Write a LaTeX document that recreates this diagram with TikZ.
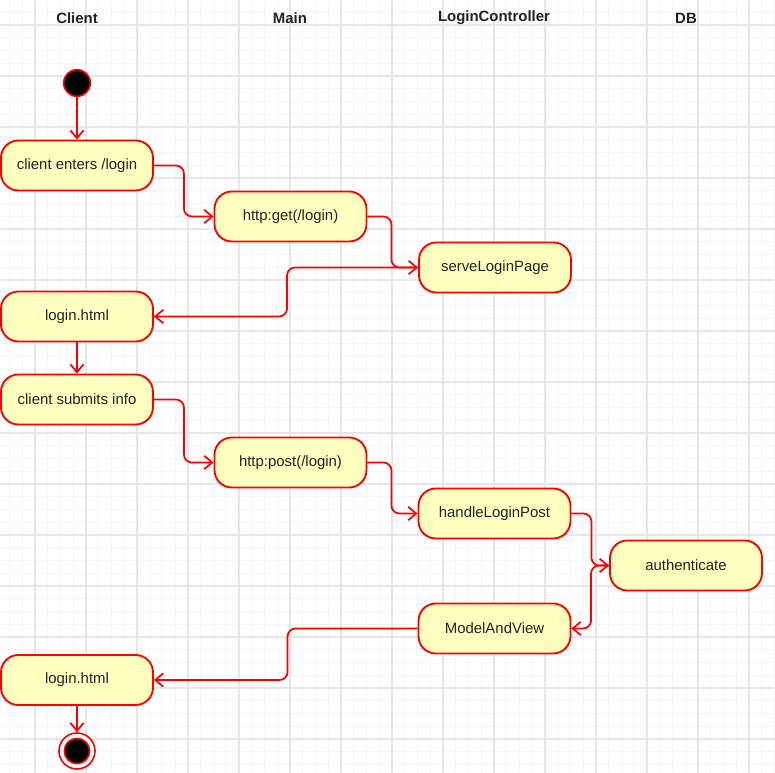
\documentclass[tikz,border=0pt]{standalone}
\usepackage{fontspec}
\setmainfont{Liberation Sans}
\usetikzlibrary{arrows.meta, positioning}

\definecolor{stfill}{HTML}{FFFFC0}
\definecolor{gridmajor}{HTML}{E6E6E6}
\definecolor{gridminor}{HTML}{F5F5F5}
\definecolor{ink}{HTML}{222222}

\tikzset{
  state/.style={draw=red, fill=stfill, line width=1.4pt, rounded corners=13pt,
    minimum width=114pt, minimum height=37.5pt, inner sep=0pt, text=ink,
    font=\fontsize{11.2}{13}\selectfont},
  lane/.style={text=ink, font=\bfseries\fontsize{11.2}{13}\selectfont},
  flow/.style={draw=red, line width=1.3pt, rounded corners=6pt, ->},
  >={Straight Barb[length=6pt,width=10pt]}
}

\begin{document}
\begin{tikzpicture}[x=0.75pt, y=-0.75pt]
        \useasboundingbox (0,0) rectangle (775,773);
        \fill[white] (0,0) rectangle (775,773);
        % grid
        \foreach \k in {-2,...,58} \draw[gridminor, line width=0.8pt] ({35+12.75*\k},0) -- ({35+12.75*\k},773);
        \foreach \k in {-1,...,58} \draw[gridminor, line width=0.8pt] (0,{25+12.75*\k}) -- (775,{25+12.75*\k});
        \foreach \k in {0,...,14} \draw[gridmajor, line width=0.9pt] ({35+51*\k},0) -- ({35+51*\k},773);
        \foreach \k in {0,...,14} \draw[gridmajor, line width=0.9pt] (0,{25+51*\k}) -- (775,{25+51*\k});

        % lanes
        \node[lane] (client) at (77,18) {Client};
        \node[lane] (main) at (290,18) {Main};
        \node[lane] (ctrl) at (494,18) {LoginController};
        \node[lane] (db) at (686,18) {DB};

        % states
        \node[circle, draw=red, fill=black, line width=1.2pt, minimum size=20pt, inner sep=0pt] (start) at (77,83) {};
        \node[state] (enter) at (77,165.5) {client enters /login};
        \node[state] (get) at (290.5,216.5) {http:get(/login)};
        \node[state] (serve) at (495,267.5) {serveLoginPage};
        \node[state] (page) at (77,316.5) {login.html};
        \node[state] (submit) at (77,399.5) {client submits info};
        \node[state] (post) at (290.5,462.5) {http:post(/login)};
        \node[state] (handle) at (494.5,513.5) {handleLoginPost};
        \node[state] (auth) at (686,565.5) {authenticate};
        \node[state] (mav) at (494.5,628.5) {ModelAndView};
        \node[state] (result) at (77,680) {login.html};
        \node[circle, draw=red, fill=white, line width=1.2pt, minimum size=27pt, inner sep=0pt] (stop) at (77,751) {};
        \node[circle, draw=red, fill=black, line width=1.2pt, minimum size=19pt, inner sep=0pt] (stopin) at (stop) {};

        % transitions
        \draw[flow] (start) -- (enter);
        \draw[flow] (enter.east) -- ++(30,0) |- (get.west);
        \draw[flow] (get.east) -- ++(24,0) |- (serve.west);
        \draw[flow] (serve.west) -- ++(-131,0) |- (page.east);
        \draw[flow] (page) -- (submit);
        \draw[flow] (submit.east) -- ++(30,0) |- (post.west);
        \draw[flow] (post.east) -- ++(24,0) |- (handle.west);
        \draw[flow] (handle.east) -- ++(20,0) |- (auth.west);
        \draw[flow] (auth.west) -- ++(-18,0) |- (mav.east);
        \draw[flow] (mav.west) -- ++(-130,0) |- (result.east);
        \draw[flow] (result) -- (stop);
  \end{tikzpicture}
\end{document}
